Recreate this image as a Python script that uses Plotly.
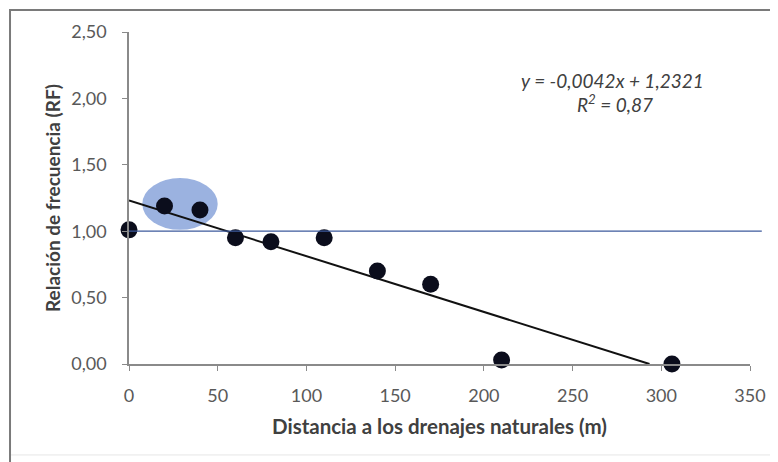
import plotly.graph_objects as go

# Data
distancia = [0, 20, 40, 60, 80, 110, 140, 170, 210, 306]
rf = [1.01, 1.19, 1.16, 0.95, 0.92, 0.95, 0.70, 0.60, 0.03, 0.00]
slope = -0.0042
intercept = 1.2321
r2 = 0.87
ref_line = 1.0
x_ticks = [0, 50, 100, 150, 200, 250, 300, 350]
y_ticks = [0.0, 0.5, 1.0, 1.5, 2.0, 2.5]
y_tick_labels = ["0,00", "0,50", "1,00", "1,50", "2,00", "2,50"]
highlight_x = [7.5, 50]
highlight_y = [1.01, 1.40]
eq_text = "<i>y = -0,0042x + 1,2321</i>"
r2_text = "<i>R<sup>2</sup> = 0,87</i>"

FONT = "Lato, 'Open Sans', sans-serif"
AX = "#8a8a8a"

x_zero = -intercept / slope
trend_x = [0, x_zero]
trend_y = [intercept + slope * v for v in trend_x]

fig = go.Figure()

fig.add_trace(go.Scatter(
    x=trend_x, y=trend_y, mode="lines",
    line=dict(color="#111111", width=2),
    hoverinfo="skip", cliponaxis=False, showlegend=False))

fig.add_trace(go.Scatter(
    x=distancia, y=rf, mode="markers",
    marker=dict(size=17, color="#0b0d1c"),
    cliponaxis=False, showlegend=False))

# highlight ellipse
fig.add_shape(type="circle", xref="x", yref="y",
              x0=highlight_x[0], x1=highlight_x[1],
              y0=highlight_y[0], y1=highlight_y[1],
              fillcolor="rgba(138,165,218,0.85)", line=dict(width=0), layer="below")

# reference line at RF = 1
fig.add_shape(type="line", xref="paper", yref="y",
              x0=0, x1=1.019, y0=ref_line, y1=ref_line,
              line=dict(color="#3d5a9c", width=1.3), layer="above")

# outer frame
fig.add_shape(type="line", xref="paper", yref="paper",
              x0=-0.1916, x1=1.06, y0=1.066, y1=1.066,
              line=dict(color="#7a7a7a", width=2))
fig.add_shape(type="line", xref="paper", yref="paper",
              x0=-0.1916, x1=-0.1916, y0=-0.3, y1=1.069,
              line=dict(color="#7a7a7a", width=2))
fig.add_shape(type="line", xref="paper", yref="paper",
              x0=-0.19, x1=1.06, y0=-0.274, y1=-0.274,
              line=dict(color="#e6e6e6", width=1))

fig.add_annotation(
    xref="paper", yref="paper", x=0.779, y=0.855, text=eq_text,
    showarrow=False, xanchor="center", yanchor="middle",
    font=dict(family=FONT, size=19, color="#404040"))
fig.add_annotation(
    xref="paper", yref="paper", x=0.782, y=0.786, text=r2_text,
    showarrow=False, xanchor="center", yanchor="middle",
    font=dict(family=FONT, size=19, color="#404040"))

fig.update_layout(
    width=770, height=454,
    margin=dict(l=121, r=28, t=24, b=98),
    paper_bgcolor="white", plot_bgcolor="white",
    font=dict(family=FONT, color="#595959", size=18),
    xaxis=dict(
        range=[0, 350], tickmode="array", tickvals=x_ticks,
        ticktext=[str(v) for v in x_ticks],
        showgrid=False, zeroline=False, showline=True, linecolor=AX, linewidth=1.5,
        ticks="outside", ticklen=5, tickcolor=AX, ticklabelstandoff=10,
        tickfont=dict(size=18, color="#595959"),
        title=dict(text="<b>Distancia a los drenajes naturales (m)</b>",
                   font=dict(size=20.5, color="#404040"), standoff=14)),
    yaxis=dict(
        range=[0, 2.5], tickmode="array", tickvals=y_ticks, ticktext=y_tick_labels,
        showgrid=False, zeroline=False, showline=True, linecolor=AX, linewidth=1.5,
        ticks="outside", ticklen=5, tickcolor=AX, ticklabelstandoff=12,
        tickfont=dict(size=18, color="#595959"),
        title=dict(text="<b>Relación de frecuencia (RF)</b>",
                   font=dict(size=19, color="#404040"), standoff=6)),
)

fig.write_html("out.html")
